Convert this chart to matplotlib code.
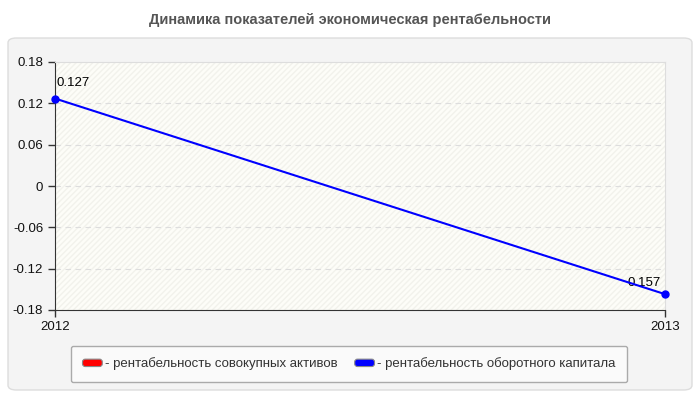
import matplotlib.pyplot as plt
from matplotlib.patches import FancyBboxPatch, Patch
from matplotlib.legend_handler import HandlerPatch

plt.rcParams['font.family'] = ['Liberation Sans', 'DejaVu Sans']

years = [2012, 2013]
assets_return = []  # series "совокупных активов" has no visible points
capital_return = [0.127, -0.157]
y_ticks = [0.18, 0.12, 0.06, 0, -0.06, -0.12, -0.18]
y_labels = ['0.18', '0.12', '0.06', '0', '-0.06', '-0.12', '-0.18']
point_labels = ['0.127', '0.157']

fig = plt.figure(figsize=(7, 4), dpi=100)
fig.patch.set_facecolor('white')

# outer grey panel
panel = FancyBboxPatch((8 / 700, 10 / 400), 684 / 700, 352 / 400,
                       boxstyle='round,pad=0,rounding_size=0.012',
                       transform=fig.transFigure, facecolor='#f4f4f4',
                       edgecolor='#dddddd', linewidth=1, zorder=-10)
fig.patches.append(panel)

fig.text(0.5, 1 - 20 / 400, 'Динамика показателей экономическая рентабельности',
         ha='center', va='center', fontsize=10.5, fontweight='bold', color='#555555')

ax = fig.add_axes([55 / 700, 1 - 310 / 400, 610 / 700, 248 / 400])
ax.set_zorder(1)
ax.set_facecolor('#fdfdf8')
ax.fill_between([2012, 2013], -0.18, 0.18, facecolor='none', edgecolor='#f2f2ec',
                hatch='//////', linewidth=0, zorder=0)

ax.set_xlim(2012, 2013)
ax.set_ylim(-0.18, 0.18)
ax.set_yticks(y_ticks)
ax.set_yticklabels(y_labels)
ax.set_xticks(years)
ax.set_xticklabels([str(y) for y in years])
ax.tick_params(labelsize=9.5, colors='#333333', length=5, width=1)
ax.tick_params(axis='x', pad=3)
for lbl in ax.get_xticklabels() + ax.get_yticklabels():
    lbl.set_color('#111111')

for v in y_ticks[1:-1]:
    ax.axhline(v, color='#dddddd', linestyle=(0, (5, 4)), linewidth=0.8, zorder=1)

for side in ['top', 'right']:
    ax.spines[side].set_color('#dddddd')
for side in ['left', 'bottom']:
    ax.spines[side].set_color('#333333')

ax.plot(years, capital_return, color='#0000ff', linewidth=1.5, marker='o',
        markersize=5, zorder=4, clip_on=False)
ax.annotate(point_labels[0], (years[0], capital_return[0]), xytext=(1, 7),
            textcoords='offset points', ha='left', va='bottom', fontsize=9.5, zorder=3)
ax.annotate(point_labels[1], (years[1], capital_return[1]), xytext=(-3, 4),
            textcoords='offset points', ha='right', va='bottom', fontsize=9.5, zorder=3)


class RoundHandler(HandlerPatch):
    def create_artists(self, legend, orig_handle, xdescent, ydescent, width, height, fontsize, trans):
        p = FancyBboxPatch((-xdescent, -ydescent + height * 0.1), width, height * 0.8,
                           boxstyle='round,pad=0,rounding_size=2',
                           facecolor=orig_handle.get_facecolor(), edgecolor='#888888',
                           linewidth=0.8, transform=trans)
        return [p]


handles = [Patch(facecolor='#ff0000', label='- рентабельность совокупных активов'),
           Patch(facecolor='#0000ff', label='- рентабельность оборотного капитала')]
leg = fig.legend(handles=handles, loc='center', bbox_to_anchor=(349 / 700, 1 - 364 / 400),
                 ncol=2, fontsize=9.5, frameon=True, fancybox=True, handlelength=1.5,
                 handletextpad=0.2, columnspacing=1.3, borderpad=0.9,
                 handler_map={Patch: RoundHandler()})
leg.get_frame().set_facecolor('#fafafa')
leg.get_frame().set_edgecolor('#aaaaaa')
leg.get_frame().set_alpha(1)
for t in leg.get_texts():
    t.set_color('#333333')

fig.savefig('out.png', dpi=100, facecolor='white')
